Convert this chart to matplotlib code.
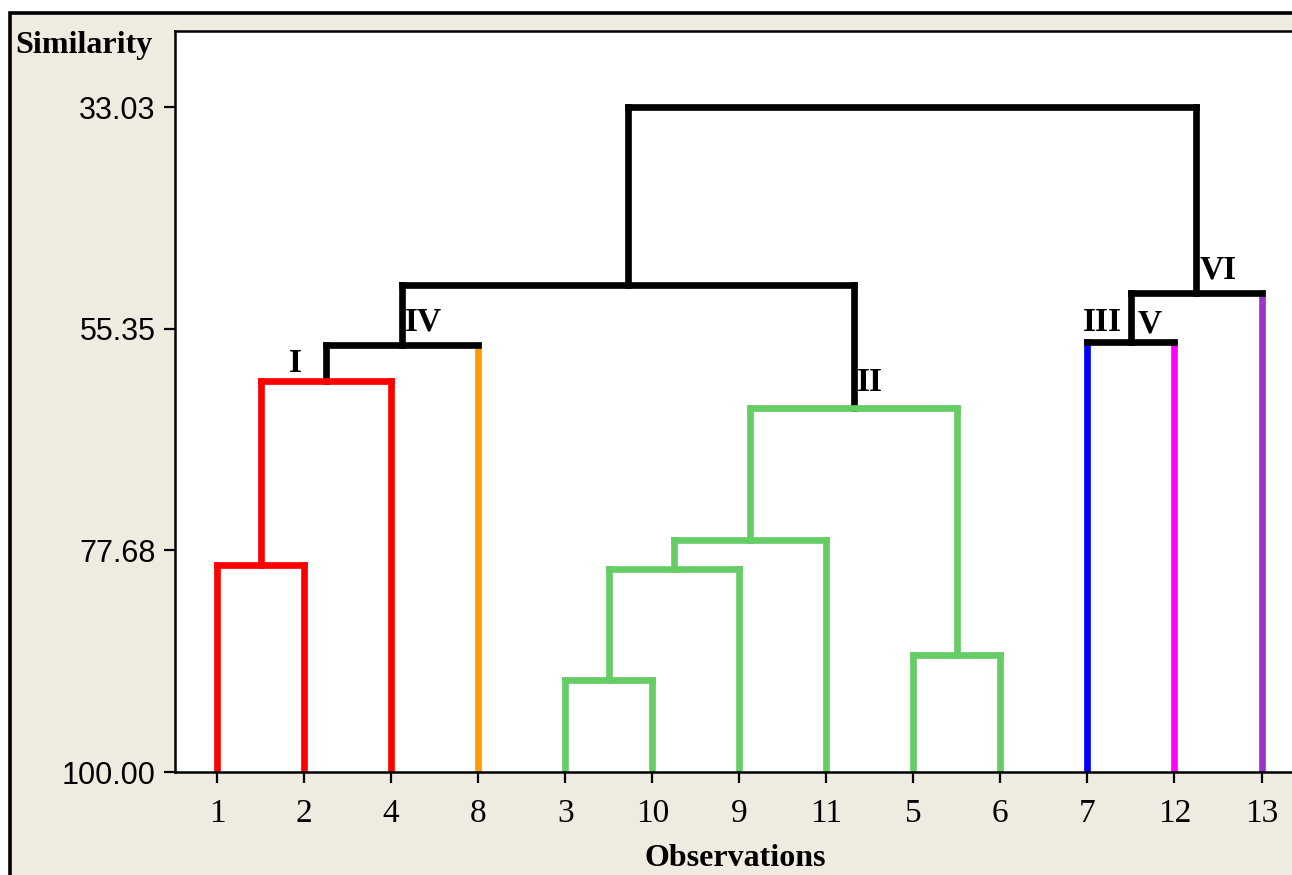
import matplotlib
matplotlib.use("Agg")
import matplotlib.pyplot as plt
from matplotlib.patches import Rectangle

# ---- data ----
leaf_labels = ['1', '2', '4', '8', '3', '10', '9', '11', '5', '6', '7', '12', '13']
leaf_colors = ['#FF0000', '#FF0000', '#FF0000', '#FF9900', '#66CC66', '#66CC66',
               '#66CC66', '#66CC66', '#66CC66', '#66CC66', '#0000FF', '#FF00FF', '#9933CC']
# merges: node ids 13.. (leaves are 0..12 in display order)
merge_left = [0, 4, 8, 14, 16, 17, 13, 19, 10, 21, 20, 23]
merge_right = [1, 5, 9, 6, 7, 15, 2, 3, 11, 12, 18, 22]
merge_height = [79.1, 90.7, 88.2, 79.6, 76.6, 63.3, 60.6, 57.0, 56.7, 51.8, 50.9, 33.03]
# colour of the horizontal bar of each merge
merge_bar_color = ['#FF0000', '#66CC66', '#66CC66', '#66CC66', '#66CC66', '#66CC66',
                   '#FF0000', 'black', 'black', 'black', 'black', 'black']
# colour of the vertical leg rising from each merge node to its parent
merge_leg_color = ['#FF0000', '#66CC66', '#66CC66', '#66CC66', '#66CC66', 'black',
                   'black', 'black', 'black', 'black', 'black', 'black']
ytick_values = [33.03, 55.35, 77.68, 100.00]
cluster_labels = ['I', 'IV', 'II', 'III', 'V', 'VI']
cluster_label_x = [0.9, 2.37, 7.5, 10.17, 10.72, 11.5]
cluster_label_y = [58.9, 54.7, 60.8, 54.7, 54.9, 49.4]

BEIGE = '#EFEBE1'
W, H = 1292, 875
fig = plt.figure(figsize=(W / 100, H / 100), dpi=100, facecolor='white')
# beige panel with black border (right and bottom edges run off the figure)
fig.add_artist(Rectangle((10 / W, -0.05), 1.1, 1 - 13 / H + 0.05,
                         transform=fig.transFigure, facecolor=BEIGE,
                         edgecolor='black', linewidth=2.6, zorder=-10))

ax = fig.add_axes([175 / W, 103 / H, 1 - 175 / W + 0.002, (844 - 103) / H])
ax.set_facecolor('white')

n = len(leaf_labels)
xpos = {i: float(i) for i in range(n)}
ypos = {i: 100.0 for i in range(n)}
leg_color = {i: leaf_colors[i] for i in range(n)}
LW = 4.8
for k in range(len(merge_left)):
    node = n + k
    a, b, h = merge_left[k], merge_right[k], merge_height[k]
    for child in (a, b):
        ax.plot([xpos[child], xpos[child]], [ypos[child], h], color=leg_color[child],
                lw=LW, solid_capstyle='projecting', zorder=2)
    ax.plot([xpos[a], xpos[b]], [h, h], color=merge_bar_color[k], lw=LW,
            solid_capstyle='projecting', zorder=3)
    xpos[node] = (xpos[a] + xpos[b]) / 2
    ypos[node] = h
    leg_color[node] = merge_leg_color[k]

for t, x, y in zip(cluster_labels, cluster_label_x, cluster_label_y):
    ax.text(x, y, t, ha='center', va='center', fontsize=24, fontweight='bold',
            family='Liberation Serif', color='black')

ax.set_xlim(-0.4837, 12.38)
ax.set_ylim(100, 25.36)
ax.set_xticks(range(n))
ax.set_xticklabels(leaf_labels, fontsize=24, family='Liberation Serif')
ax.set_yticks(ytick_values)
ax.set_yticklabels([f'{v:.2f}' for v in ytick_values], fontsize=22, family='Liberation Sans')
ax.tick_params(axis='both', direction='out', length=8, width=1.6, color='black')
ax.tick_params(axis='x', pad=11)
ax.tick_params(axis='y', pad=6)
for s in ['left', 'bottom', 'top']:
    ax.spines[s].set_linewidth(1.8)
    ax.spines[s].set_color('black')
ax.spines['right'].set_visible(False)

fig.text(15 / W, 1 - 45 / H, 'Similarity', ha='left', va='center', fontsize=23,
         fontweight='bold', family='Liberation Serif')
fig.text(735 / W, 1 - 858 / H, 'Observations', ha='center', va='center', fontsize=23,
         fontweight='bold', family='Liberation Serif')

fig.savefig('out.png', dpi=100, facecolor='white')
